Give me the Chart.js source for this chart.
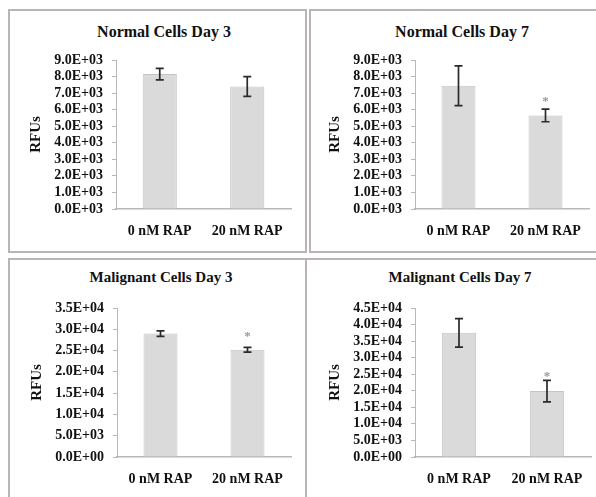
<!DOCTYPE html>
<html>
<head>
<meta charset="utf-8">
<script src="https://cdn.jsdelivr.net/npm/chart.js@4.4.1/dist/chart.umd.min.js"></script>
<style>
    body { margin: 0; width: 596px; height: 497px; overflow: hidden; background: #fff; position: relative; font-family: 'Liberation Serif', 'Times New Roman', serif; }
    .box { position: absolute; border: 2px solid #bab5b5; box-sizing: border-box; }
    .title { position: absolute; font-weight: bold; color: #111; transform: translate(-50%, -50%); white-space: nowrap; }
    canvas { position: absolute; }
</style>
</head>
<body>
<div class="box" style="left:8px;top:9px;width:299px;height:244px"></div>
<div class="box" style="left:309px;top:9px;width:300px;height:244px"></div>
<div class="box" style="left:8px;top:258px;width:299px;height:250px"></div>
<div class="box" style="left:305px;top:258px;width:300px;height:250px"></div>

<div class="title" style="left:164px;top:32px;font-size:16px">Normal Cells Day 3</div>
<div class="title" style="left:462px;top:32px;font-size:16px">Normal Cells Day 7</div>
<div class="title" style="left:161px;top:277px;font-size:15px">Malignant Cells Day 3</div>
<div class="title" style="left:460px;top:277px;font-size:15px">Malignant Cells Day 7</div>

<canvas id="normal3" width="293" height="243" style="left:8px;top:10px"></canvas>
<canvas id="normal7" width="292" height="243" style="left:307px;top:10px"></canvas>
<canvas id="malig3" width="292" height="243" style="left:9px;top:258px"></canvas>
<canvas id="malig7" width="294" height="243" style="left:307px;top:258px"></canvas>

<script>
const categories = ['0 nM RAP', '20 nM RAP'];

const normalDay3 = [8150, 7400];
const normalDay3Err = [350, 600];
const normalDay3Star = [false, false];

const normalDay7 = [7450, 5650];
const normalDay7Err = [1200, 380];
const normalDay7Star = [false, true];

const malignantDay3 = [29000, 25200];
const malignantDay3Err = [650, 550];
const malignantDay3Star = [false, true];

const malignantDay7 = [37500, 19900];
const malignantDay7Err = [4300, 3250];
const malignantDay7Star = [false, true];

const normalTicks = ['0.0E+03', '1.0E+03', '2.0E+03', '3.0E+03', '4.0E+03', '5.0E+03', '6.0E+03', '7.0E+03', '8.0E+03', '9.0E+03'];
const malignantDay3Ticks = ['0.0E+00', '5.0E+03', '1.0E+04', '1.5E+04', '2.0E+04', '2.5E+04', '3.0E+04', '3.5E+04'];
const malignantDay7Ticks = ['0.0E+00', '5.0E+03', '1.0E+04', '1.5E+04', '2.0E+04', '2.5E+04', '3.0E+04', '3.5E+04', '4.0E+04', '4.5E+04'];

const FONT = "'Liberation Serif', 'Times New Roman', serif";
const AXIS_GREY = '#b8b8b8';

// error bars + significance stars, drawn after the bars
const errorBars = {
    id: 'errorBars',
    afterDatasetsDraw(chart) {
        const ctx = chart.ctx;
        const yScale = chart.scales.y;
        const ds = chart.data.datasets[0];
        chart.getDatasetMeta(0).data.forEach((bar, i) => {
            const v = ds.data[i];
            const top = yScale.getPixelForValue(v + ds.errors[i]);
            const bot = yScale.getPixelForValue(v - ds.errors[i]);
            ctx.save();
            ctx.strokeStyle = '#2a2a2a';
            ctx.lineWidth = 1.7;
            ctx.beginPath();
            ctx.moveTo(bar.x, top);
            ctx.lineTo(bar.x, bot);
            ctx.moveTo(bar.x - 4, top);
            ctx.lineTo(bar.x + 4, top);
            ctx.moveTo(bar.x - 4, bot);
            ctx.lineTo(bar.x + 4, bot);
            ctx.stroke();
            if (ds.stars[i]) {
                // star sits above the bar, kept clear of the error cap
                const cy = Math.min(bar.y - 17, top - 7);
                ctx.fillStyle = '#9a9a9a';
                ctx.font = 'bold 13px ' + FONT;
                ctx.textAlign = 'center';
                ctx.textBaseline = 'alphabetic';
                ctx.fillText('*', bar.x, cy + 7);
            }
            ctx.restore();
        });
    }
};

function makeChart(id, values, errors, stars, max, step, tickLabels) {
    new Chart(document.getElementById(id), {
        type: 'bar',
        data: {
            labels: categories,
            datasets: [{
                data: values,
                errors: errors,
                stars: stars,
                backgroundColor: '#dadada',
                borderColor: '#c4c4c4',
                borderWidth: 1,
                barPercentage: 0.39,
                categoryPercentage: 1
            }]
        },
        options: {
            responsive: false,
            animation: false,
            events: [],
            layout: { padding: { top: 50, left: 0, right: 10, bottom: 0 } },
            plugins: {
                legend: { display: false },
                tooltip: { enabled: false }
            },
            scales: {
                x: {
                    grid: { drawOnChartArea: false, drawTicks: false },
                    border: { color: AXIS_GREY, width: 1.5 },
                    ticks: { color: '#111', font: { family: FONT, size: 14, weight: 'bold' }, padding: 14, maxRotation: 0 },
                    afterFit: s => { s.height = 44; }
                },
                y: {
                    min: 0,
                    max: max,
                    grid: { drawOnChartArea: false, drawTicks: true, tickLength: 4, tickColor: AXIS_GREY },
                    border: { color: AXIS_GREY, width: 1 },
                    ticks: {
                        stepSize: step,
                        autoSkip: false,
                        padding: 9,
                        color: '#111',
                        font: { family: FONT, size: 14, weight: 'bold' },
                        callback: (v, i) => tickLabels[i]
                    },
                    title: {
                        display: true,
                        text: 'RFUs',
                        color: '#111',
                        font: { family: FONT, size: 15, weight: 'bold' },
                        padding: { top: 19, bottom: 0 }
                    },
                    afterFit: s => { s.width = 108; }
                }
            }
        },
        plugins: [errorBars]
    });
}

makeChart('normal3', normalDay3, normalDay3Err, normalDay3Star, 9000, 1000, normalTicks);
makeChart('normal7', normalDay7, normalDay7Err, normalDay7Star, 9000, 1000, normalTicks);
makeChart('malig3', malignantDay3, malignantDay3Err, malignantDay3Star, 35000, 5000, malignantDay3Ticks);
makeChart('malig7', malignantDay7, malignantDay7Err, malignantDay7Star, 45000, 5000, malignantDay7Ticks);
</script>
</body>
</html>
